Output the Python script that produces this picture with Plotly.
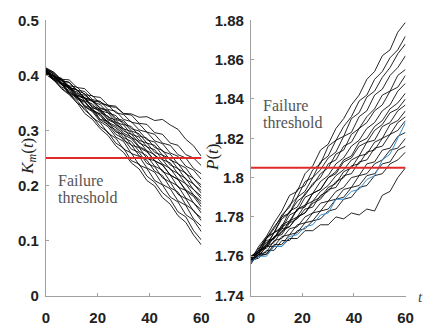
import plotly.graph_objects as go

t = [0, 3, 6, 9, 12, 15, 18, 21, 24, 27, 30, 33, 36, 39, 42, 45, 48, 51, 54, 57, 60]

km_paths = [
    [0.405,0.393,0.376,0.365,0.351,0.331,0.320,0.303,0.291,0.272,0.260,0.241,0.230,0.209,0.199,0.178,0.166,0.145,0.133,0.110,0.092],
    [0.410,0.394,0.386,0.367,0.355,0.337,0.325,0.307,0.297,0.277,0.268,0.245,0.239,0.217,0.206,0.187,0.175,0.152,0.143,0.118,0.101],
    [0.402,0.392,0.377,0.367,0.350,0.341,0.323,0.314,0.295,0.286,0.266,0.259,0.237,0.231,0.209,0.201,0.179,0.170,0.147,0.137,0.116],
    [0.408,0.395,0.387,0.369,0.361,0.343,0.334,0.316,0.307,0.288,0.280,0.258,0.253,0.232,0.224,0.202,0.194,0.172,0.164,0.139,0.126],
    [0.412,0.402,0.385,0.378,0.360,0.353,0.335,0.327,0.309,0.301,0.282,0.274,0.254,0.246,0.226,0.218,0.196,0.188,0.165,0.155,0.136],
    [0.404,0.391,0.384,0.367,0.360,0.344,0.336,0.319,0.311,0.293,0.285,0.266,0.260,0.240,0.234,0.214,0.206,0.184,0.176,0.153,0.141],
    [0.409,0.399,0.384,0.376,0.360,0.353,0.337,0.329,0.313,0.305,0.287,0.280,0.262,0.254,0.235,0.228,0.207,0.199,0.177,0.169,0.150],
    [0.406,0.393,0.386,0.370,0.363,0.345,0.340,0.320,0.317,0.297,0.293,0.273,0.269,0.249,0.245,0.225,0.219,0.197,0.191,0.168,0.156],
    [0.413,0.403,0.387,0.381,0.365,0.358,0.342,0.335,0.319,0.313,0.295,0.288,0.271,0.263,0.245,0.238,0.219,0.211,0.190,0.180,0.161],
    [0.403,0.394,0.379,0.373,0.357,0.351,0.337,0.330,0.315,0.308,0.292,0.285,0.269,0.261,0.245,0.237,0.219,0.211,0.192,0.183,0.166],
    [0.410,0.397,0.391,0.375,0.370,0.354,0.348,0.332,0.326,0.310,0.303,0.287,0.280,0.263,0.256,0.239,0.231,0.212,0.203,0.183,0.171],
    [0.407,0.400,0.383,0.380,0.362,0.359,0.341,0.337,0.321,0.315,0.299,0.293,0.277,0.271,0.254,0.247,0.229,0.222,0.203,0.193,0.176],
    [0.411,0.399,0.394,0.378,0.374,0.357,0.353,0.336,0.332,0.315,0.310,0.293,0.288,0.270,0.265,0.247,0.241,0.221,0.213,0.192,0.181],
    [0.405,0.398,0.384,0.379,0.364,0.360,0.344,0.339,0.324,0.319,0.303,0.298,0.282,0.277,0.260,0.255,0.237,0.231,0.211,0.203,0.186],
    [0.409,0.398,0.393,0.378,0.374,0.359,0.355,0.340,0.335,0.320,0.315,0.299,0.294,0.277,0.273,0.255,0.249,0.230,0.223,0.202,0.191],
    [0.414,0.406,0.391,0.387,0.372,0.367,0.352,0.347,0.332,0.327,0.311,0.307,0.290,0.286,0.269,0.264,0.246,0.240,0.221,0.213,0.196],
    [0.406,0.395,0.392,0.377,0.374,0.359,0.355,0.341,0.337,0.322,0.318,0.303,0.299,0.283,0.279,0.262,0.257,0.239,0.232,0.212,0.201],
    [0.410,0.404,0.390,0.388,0.373,0.371,0.356,0.353,0.338,0.335,0.320,0.316,0.301,0.297,0.281,0.276,0.259,0.253,0.235,0.228,0.211],
    [0.408,0.398,0.395,0.381,0.379,0.365,0.363,0.349,0.346,0.332,0.329,0.315,0.312,0.297,0.293,0.277,0.273,0.256,0.250,0.231,0.221],
    [0.412,0.406,0.393,0.392,0.378,0.376,0.362,0.360,0.346,0.344,0.330,0.328,0.313,0.311,0.296,0.293,0.277,0.273,0.256,0.250,0.236],
    [0.407,0.400,0.386,0.381,0.367,0.364,0.353,0.352,0.344,0.342,0.331,0.330,0.324,0.325,0.318,0.320,0.310,0.302,0.284,0.272,0.253],
]

p_paths = [
    [1.758,1.765,1.770,1.777,1.783,1.791,1.793,1.802,1.806,1.814,1.817,1.825,1.830,1.837,1.842,1.850,1.854,1.862,1.865,1.874,1.879],
    [1.757,1.761,1.769,1.774,1.781,1.785,1.794,1.796,1.804,1.807,1.816,1.819,1.826,1.831,1.839,1.842,1.850,1.854,1.861,1.865,1.872],
    [1.759,1.764,1.769,1.775,1.780,1.786,1.790,1.798,1.800,1.808,1.811,1.819,1.821,1.830,1.833,1.841,1.844,1.851,1.856,1.863,1.868],
    [1.758,1.763,1.769,1.772,1.780,1.782,1.790,1.793,1.800,1.804,1.810,1.813,1.821,1.823,1.831,1.834,1.842,1.845,1.852,1.856,1.862],
    [1.756,1.762,1.766,1.772,1.775,1.783,1.785,1.792,1.796,1.802,1.805,1.812,1.814,1.822,1.825,1.831,1.835,1.842,1.844,1.852,1.855],
    [1.760,1.763,1.770,1.772,1.779,1.782,1.788,1.791,1.797,1.800,1.807,1.809,1.816,1.818,1.825,1.828,1.834,1.837,1.844,1.846,1.852],
    [1.758,1.763,1.765,1.772,1.774,1.781,1.783,1.790,1.792,1.798,1.801,1.807,1.810,1.816,1.819,1.825,1.828,1.834,1.837,1.844,1.848],
    [1.757,1.761,1.766,1.769,1.775,1.777,1.784,1.785,1.792,1.794,1.800,1.803,1.809,1.811,1.818,1.820,1.826,1.829,1.835,1.838,1.843],
    [1.759,1.762,1.768,1.769,1.776,1.778,1.784,1.786,1.792,1.794,1.800,1.802,1.808,1.810,1.816,1.818,1.824,1.827,1.833,1.835,1.840],
    [1.758,1.762,1.765,1.770,1.772,1.778,1.780,1.786,1.788,1.793,1.796,1.801,1.804,1.809,1.811,1.818,1.819,1.826,1.828,1.834,1.837],
    [1.757,1.760,1.765,1.767,1.773,1.775,1.780,1.782,1.788,1.790,1.795,1.797,1.803,1.805,1.811,1.812,1.818,1.820,1.827,1.829,1.834],
    [1.758,1.763,1.764,1.770,1.771,1.777,1.779,1.784,1.785,1.791,1.793,1.798,1.800,1.806,1.807,1.813,1.814,1.820,1.822,1.828,1.831],
    [1.760,1.762,1.767,1.769,1.774,1.775,1.780,1.782,1.787,1.789,1.794,1.795,1.801,1.802,1.808,1.809,1.815,1.816,1.822,1.824,1.829],
    [1.757,1.761,1.762,1.768,1.769,1.774,1.775,1.780,1.782,1.787,1.788,1.793,1.795,1.800,1.801,1.807,1.808,1.814,1.815,1.821,1.823],
    [1.758,1.760,1.765,1.765,1.770,1.771,1.776,1.777,1.782,1.783,1.788,1.789,1.794,1.795,1.801,1.802,1.807,1.809,1.814,1.815,1.820],
    [1.757,1.760,1.761,1.766,1.766,1.771,1.772,1.777,1.778,1.783,1.784,1.789,1.790,1.795,1.796,1.801,1.802,1.807,1.808,1.814,1.816],
    [1.758,1.759,1.763,1.763,1.768,1.768,1.773,1.774,1.778,1.779,1.783,1.784,1.789,1.790,1.795,1.796,1.801,1.802,1.807,1.809,1.813],
    [1.758,1.761,1.761,1.765,1.765,1.769,1.769,1.773,1.773,1.776,1.776,1.780,1.779,1.782,1.781,1.784,1.783,1.791,1.793,1.800,1.805],
]
p_blue = [1.757,1.760,1.760,1.765,1.765,1.770,1.771,1.775,1.776,1.781,1.782,1.789,1.789,1.793,1.794,1.799,1.801,1.809,1.812,1.820,1.828]

km_threshold = 0.25
p_threshold = 1.805
x_ticks = [0, 20, 40, 60]
km_ticks = [0, 0.1, 0.2, 0.3, 0.4, 0.5]
km_ticklabels = ["0", "0.1", "0.2", "0.3", "0.4", "0.5"]
p_ticks = [1.74, 1.76, 1.78, 1.80, 1.82, 1.84, 1.86, 1.88]
p_ticklabels = ["1.74", "1.76", "1.78", "1.8", "1.82", "1.84", "1.86", "1.88"]

W, H = 431, 332
fig = go.Figure()

line_style = dict(color="rgba(0,0,0,0.85)", width=1)
for p in km_paths:
    fig.add_trace(go.Scatter(x=t, y=p, mode="lines", line=line_style, xaxis="x", yaxis="y", hoverinfo="skip"))
fig.add_trace(go.Scatter(x=[0, 60], y=[km_threshold]*2, mode="lines",
                         line=dict(color="#e02a2a", width=2), xaxis="x", yaxis="y"))

for p in p_paths:
    fig.add_trace(go.Scatter(x=t, y=p, mode="lines", line=line_style, xaxis="x2", yaxis="y2", hoverinfo="skip"))
fig.add_trace(go.Scatter(x=t, y=p_blue, mode="lines", line=dict(color="#3a8fd0", width=1),
                         xaxis="x2", yaxis="y2"))
fig.add_trace(go.Scatter(x=[0, 60], y=[p_threshold]*2, mode="lines",
                         line=dict(color="#e02a2a", width=2), xaxis="x2", yaxis="y2"))

tickfont = dict(family="Liberation Sans, Arial", size=15, color="#222", weight="bold")
ax_common = dict(showgrid=False, zeroline=False, showline=True, linecolor="#a0a0a0", linewidth=1,
                 ticks="inside", ticklen=3, tickcolor="#a0a0a0", tickfont=tickfont, mirror=False)

ytop = 1 - 12 / H
ybot = 1 - 302 / H
fig.update_layout(
    width=W, height=H, margin=dict(l=0, r=0, t=0, b=0),
    paper_bgcolor="white", plot_bgcolor="white", showlegend=False,
    xaxis=dict(domain=[43 / W, 203 / W], range=[0, 60], tickvals=x_ticks, anchor="y",
               ticklabelstandoff=8, **ax_common),
    yaxis=dict(domain=[ybot, ytop], range=[0, 0.5], tickvals=km_ticks, ticktext=km_ticklabels,
               anchor="x", ticklabelstandoff=3, **ax_common),
    xaxis2=dict(domain=[254 / W, 413 / W], range=[0, 60], tickvals=x_ticks, anchor="y2",
                ticklabelstandoff=8, **ax_common),
    yaxis2=dict(domain=[ybot, ytop], range=[1.74, 1.88], tickvals=p_ticks, ticktext=p_ticklabels,
                anchor="x2", ticklabelstandoff=3, **ax_common),
)

serif = "Liberation Serif, Times New Roman, serif"
ann = []
ann.append(dict(x=12 / W, y=1 - 155 / H, xref="paper", yref="paper", textangle=-90,
                text="<i>K</i><sub><i>m</i></sub>(<i>t</i>)", showarrow=False,
                font=dict(family=serif, size=17, color="#222")))
ann.append(dict(x=215 / W, y=1 - 157 / H, xref="paper", yref="paper", textangle=-90,
                text="<i>P</i>(<i>t</i>)", showarrow=False,
                font=dict(family=serif, size=17, color="#222")))
ann.append(dict(x=428 / W, y=1 - 304 / H, xref="paper", yref="paper", xanchor="center", yanchor="middle",
                text="<i>t</i>", showarrow=False, font=dict(family=serif, size=15, color="#444")))
txtfont = dict(family=serif, size=16, color="#555")
for (xx, yy, s) in [(53, 181, "Failure"), (53, 199, "threshold"), (264, 102, "Failure"), (264, 120, "threshold")]:
    ann.append(dict(x=xx / W, y=1 - yy / H, xref="paper", yref="paper", xanchor="left", yanchor="middle",
                    text=s, showarrow=False, font=txtfont))
fig.update_layout(annotations=ann)

fig.write_html("out.html")
